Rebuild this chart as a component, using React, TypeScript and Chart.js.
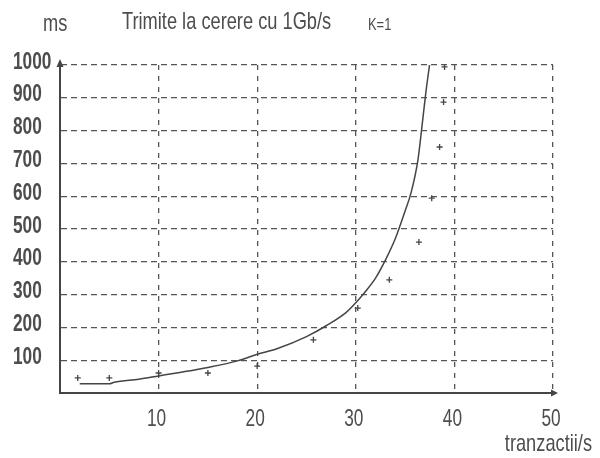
import React, { useEffect, useRef } from "react";
import { Chart, registerables } from "chart.js";

Chart.register(...registerables);

// Fitted curve (ms vs tranzactii/s)
const curveX = [2, 5, 5.5, 8, 10, 12, 15, 18, 20, 22, 25, 27, 29, 30, 31, 32, 33, 34, 35, 35.6, 36.3, 36.7, 37.1, 37.5];
const curveY = [28, 28, 33, 42, 52, 62, 78, 98, 118, 135, 172, 205, 245, 275, 310, 350, 405, 470, 555, 610, 710, 810, 915, 1005];

// Measured points
const pointX = [1.8, 5, 10, 15, 20, 25.7, 30.2, 33.4, 36.4, 37.7, 38.5, 38.9, 39];
const pointY = [46, 46, 61, 61, 82, 162, 259, 345, 460, 594, 750, 887, 994];

// Axis ticks
const xTickValues = [0, 10, 20, 30, 40, 50];
const yTickValues = [0, 100, 200, 300, 400, 500, 600, 700, 800, 900, 1000];

const titleText = "Trimite la cerere cu 1Gb/s";
const yUnitText = "ms";
const kText = "K=1";
const xUnitText = "tranzactii/s";

const INK = "#454545";
const TEXT = "#4d4d4d";
const GRID = "#555555";
const FONT = "'Liberation Sans', Arial, sans-serif";
const SQUEEZE = 0.76;

function narrowText(
  ctx: CanvasRenderingContext2D,
  text: string,
  x: number,
  y: number,
  size: number,
  align: CanvasTextAlign,
  baseline: CanvasTextBaseline,
  weight: string = "normal",
  squeeze: number = SQUEEZE
) {
  ctx.save();
  ctx.translate(x, y);
  ctx.scale(squeeze, 1);
  ctx.font = `${weight} ${size}px ${FONT}`;
  ctx.textAlign = align;
  ctx.textBaseline = baseline;
  ctx.fillStyle = TEXT;
  ctx.fillText(text, 0, 0);
  ctx.restore();
}

const tickLabel = (v: any) => (v === 0 ? "" : String(v));

const decorPlugin = {
  id: "decor",
  afterDraw(chart: any) {
    const ctx = chart.ctx as CanvasRenderingContext2D;
    const x = chart.scales.x;
    const y = chart.scales.y;
    const left = x.getPixelForValue(0);
    const bottom = y.getPixelForValue(0);
    const top = y.getPixelForValue(1000);
    const right = x.getPixelForValue(50);
    ctx.save();
    ctx.fillStyle = INK;
    ctx.strokeStyle = INK;
    ctx.lineWidth = 2;
    // extend x axis and arrow
    ctx.beginPath();
    ctx.moveTo(right - 2, bottom);
    ctx.lineTo(right + 2, bottom);
    ctx.stroke();
    ctx.beginPath();
    ctx.moveTo(right + 5, bottom);
    ctx.lineTo(right - 2, bottom - 3.5);
    ctx.lineTo(right - 2, bottom + 3.5);
    ctx.closePath();
    ctx.fill();
    // y arrow
    ctx.beginPath();
    ctx.moveTo(left, top - 6);
    ctx.lineTo(left - 3.5, top + 2);
    ctx.lineTo(left + 3.5, top + 2);
    ctx.closePath();
    ctx.fill();
    ctx.restore();

    // tick labels from the scales
    y.ticks.forEach((t: any) => {
      const s = tickLabel(t.value);
      if (s) narrowText(ctx, s, 13, y.getPixelForValue(t.value) - 3, 24, "left", "middle", "bold", 0.72);
    });
    x.ticks.forEach((t: any) => {
      const s = tickLabel(t.value);
      if (s) narrowText(ctx, s, x.getPixelForValue(t.value) - 2, 419, 24, "center", "middle", "normal", 0.72);
    });

    // texts
    narrowText(ctx, yUnitText, 43, 31, 24, "left", "alphabetic");
    narrowText(ctx, titleText, 122, 29, 24, "left", "alphabetic");
    narrowText(ctx, kText, 368, 30, 17, "left", "alphabetic");
    narrowText(ctx, xUnitText, 592, 451, 24, "right", "alphabetic");
  },
};

export default function App() {
  const ref = useRef<HTMLCanvasElement | null>(null);
  useEffect(() => {
    document.body.style.margin = "0";
    const canvas = ref.current!;
    const chart = new Chart(canvas, {
      type: "scatter",
      data: {
        datasets: [
          {
            type: "line",
            data: curveX.map((v, i) => ({ x: v, y: curveY[i] })),
            borderColor: INK,
            borderWidth: 1.5,
            pointRadius: 0,
            cubicInterpolationMode: "monotone",
            fill: false,
          } as any,
          {
            type: "scatter",
            data: pointX.map((v, i) => ({ x: v, y: pointY[i] })),
            pointStyle: "cross",
            pointRadius: 3,
            borderColor: INK,
            backgroundColor: INK,
            borderWidth: 1.3,
          } as any,
        ],
      },
      options: {
        animation: false,
        responsive: false,
        layout: { padding: { left: 13, top: 65, right: 47, bottom: 0 } },
        plugins: { legend: { display: false }, tooltip: { enabled: false }, title: { display: false } },
        scales: {
          x: {
            type: "linear",
            min: 0,
            max: 50,
            afterBuildTicks: (s: any) => {
              s.ticks = xTickValues.map((v) => ({ value: v }));
            },
            afterFit: (s: any) => {
              s.height = 65;
            },
            ticks: { display: false, callback: tickLabel, autoSkip: false },
            grid: {
              color: (c: any) => (c.tick && c.tick.value === 0 ? "rgba(0,0,0,0)" : GRID),
              lineWidth: 1.3,
              drawTicks: false,
            },
            border: { display: true, color: INK, width: 2, dash: [5, 6] },
          },
          y: {
            type: "linear",
            min: 0,
            max: 1000,
            afterBuildTicks: (s: any) => {
              s.ticks = yTickValues.map((v) => ({ value: v }));
            },
            afterFit: (s: any) => {
              s.width = 47;
            },
            ticks: { display: false, callback: tickLabel, autoSkip: false },
            grid: {
              color: (c: any) => (c.tick && c.tick.value === 0 ? "rgba(0,0,0,0)" : GRID),
              lineWidth: 1.3,
              drawTicks: false,
            },
            border: { display: true, color: INK, width: 2, dash: [6, 4] },
          },
        },
      } as any,
      plugins: [decorPlugin],
    });
    return () => chart.destroy();
  }, []);
  return (
    <canvas
      ref={ref}
      width={600}
      height={458}
      style={{ display: "block", position: "absolute", left: 0, top: 0, width: 600, height: 458 }}
    />
  );
}
